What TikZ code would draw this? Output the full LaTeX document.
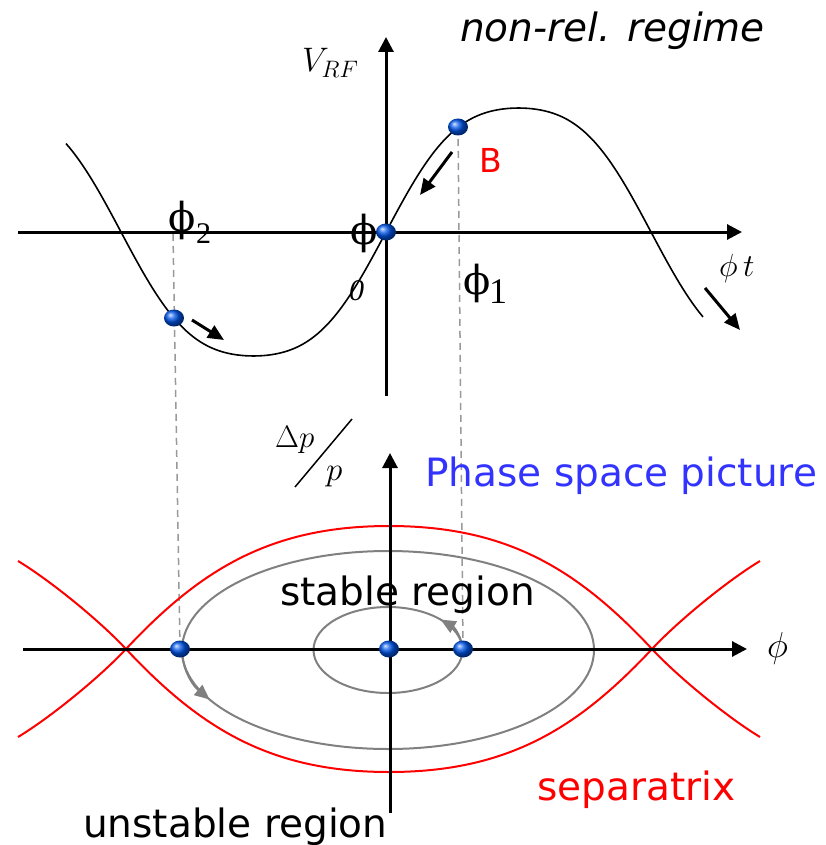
\documentclass[tikz,border=0pt]{standalone}
\usepackage{fix-cm}
\usepackage{fontspec}
\setsansfont{DejaVu Sans}
\newfontfamily\phifont{DejaVu Serif}
\newfontfamily\timesfont{Liberation Serif}
\usepackage{tikz}
\usetikzlibrary{arrows.meta,positioning,shapes.geometric,calc}
\definecolor{phaseblue}{RGB}{51,51,255}
\definecolor{sepred}{RGB}{255,0,0}
\definecolor{dotblue}{RGB}{0,85,235}
\newcommand{\fsz}[1]{\fontsize{#1}{#1}\selectfont}

\begin{document}
\begin{tikzpicture}[
  x=1pt, y=-1pt,
  axis/.style={line width=3pt, -{Triangle[length=15pt,width=15pt]}},
  wave/.style={line width=1.6pt},
  move/.style={line width=3pt, -{Triangle[length=16pt,width=14pt]}},
  guide/.style={black!40, line width=1.5pt, dash pattern=on 7pt off 5pt},
  orbit/.style={black!50, line width=2pt},
  turn/.style={orbit, -{Triangle[length=15pt,width=13pt]}},
  sep/.style={sepred, line width=2pt},
  dot/.style={ellipse, shade, ball color=dotblue, minimum width=20pt, minimum height=17pt, inner sep=0pt},
  txt/.style={font=\sffamily\fsz{39}, inner sep=0pt, anchor=base west},
  sym/.style={inner sep=0pt, anchor=base west}
]
\useasboundingbox (0,0) rectangle (826,845);

\coordinate (tl) at (18,232);
\coordinate (tr) at (742,232);
\coordinate (tb) at (386,396);
\coordinate (tt) at (386,37);
\coordinate (bl) at (23,649);
\coordinate (br) at (747,649);
\coordinate (bb) at (390,813);
\coordinate (bt) at (390,453);
\coordinate (oc) at (388,650);
\coordinate (xl) at (126,649);
\coordinate (xr) at (652,649);
\coordinate (d2) at (173,234);
\coordinate (c-o0) at (386,232);
\coordinate (c-pB) at (458,127);
\coordinate (c-p2) at (174,318);
\coordinate (c-q2) at (180,649);
\coordinate (c-q0) at (389,649);
\coordinate (c-q1) at (463,649);

\draw[guide] (d2) -- (c-q2);
\draw[guide] (c-pB) -- (c-q1);

\draw[axis] (tl) -- (tr);
\draw[axis] (tb) -- (tt);
\draw[wave] plot[domain=66:703, samples=150, smooth]
  (\x, {232-132.6*(sin((\x-386)/265*180)+0.065*sin(3*(\x-386)/265*180))});

\draw[move] (452,152) coordinate (m1a) -- (420,195) coordinate (m1b);
\draw[move] (192,320) coordinate (m2a) -- (224,340) coordinate (m2b);
\draw[move] (705,288) coordinate (m3a) -- (740,330) coordinate (m3b);

\draw[orbit] (oc) ellipse [x radius=206, y radius=99];
\draw[orbit] (oc) ellipse [x radius=74.5, y radius=43];
\draw[turn] ($(oc)+(-206,0)$) arc [start angle=180, end angle=150, x radius=206, y radius=99];
\draw[turn] ($(oc)+(74.5,0)$) arc [start angle=0, end angle=-45, x radius=74.5, y radius=43];

\draw[sep] (18,737) .. controls (48,719) and (98,679) .. (xl)
  .. controls (200,570) and (270,526) .. (389,526)
  .. controls (508,526) and (578,570) .. (xr)
  .. controls (680,679) and (730,719) .. (760,737);
\draw[sep] (18,561) .. controls (48,579) and (98,619) .. (xl)
  .. controls (200,728) and (270,772) .. (389,772)
  .. controls (508,772) and (578,728) .. (xr)
  .. controls (680,619) and (730,579) .. (760,561);

\draw[axis] (bl) -- (br);
\draw[axis] (bb) -- (bt);

\node[dot] (o0) at (c-o0) {};
\node[dot] (pB) at (c-pB) {};
\node[dot] (p2) at (c-p2) {};
\node[dot] (q2) at (c-q2) {};
\node[dot] (q0) at (c-q0) {};
\node[dot] (q1) at (c-q1) {};

\coordinate (sl0) at (295,487);
\coordinate (sl1) at (352,419);
\draw[line width=1.5pt] (sl0) -- (sl1);

\node[txt, font=\sffamily\itshape\fsz{39}] (regime) at (460,42) {non-rel. regime};
\node[sym, font=\fsz{34}] (vrf) at (302,72) {$V_{RF}$};
\node[txt, text=sepred, font=\sffamily\fsz{33}] (labB) at (479,172) {B};
\node[sym, font=\phifont\fsz{40}] (phi2) at (168,231) {ϕ};
\node[sym, font=\timesfont\fsz{30}] (sub2) at (196,243) {2};
\node[sym, font=\phifont\fsz{40}] (phi0) at (350,244) {ϕ};
\node[sym, font=\timesfont\itshape\fsz{30}] (sub0) at (349,300) {0};
\node[sym, font=\phifont\fsz{40}] (phi1) at (463,294) {ϕ};
\node[sym, font=\timesfont\fsz{36}] (sub1) at (489,303) {1};
\node[sym, font=\fsz{32}] (phit) at (719,276) {$\phi\,t$};
\node[sym, font=\fsz{36}] (phib) at (767,657) {$\phi$};
\node[sym, font=\fsz{31}] (dp) at (275,447) {$\Delta p$};
\node[sym, font=\fsz{33}] (pp) at (326,480) {$p$};
\node[txt, text=phaseblue] (phase) at (425,486) {Phase space picture};
\node[txt] (stable) at (280,605) {stable region};
\node[txt] (unstable) at (83,837) {unstable region};
\node[txt, text=sepred] (separ) at (537,800) {separatrix};
\end{tikzpicture}
\end{document}
